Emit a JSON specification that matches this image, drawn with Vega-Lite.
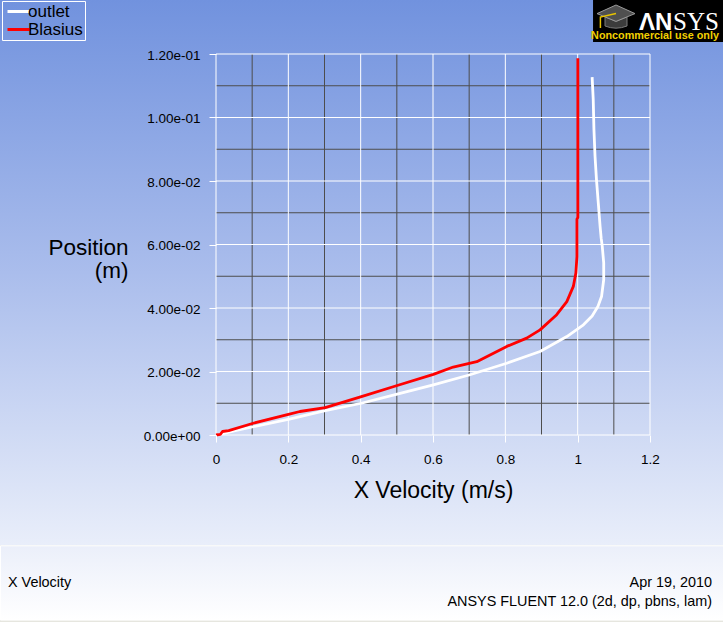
{
  "$schema": "https://vega.github.io/schema/vega-lite/v6.json",
  "width": 434,
  "height": 381,
  "autosize": {"type": "none"},
  "padding": {"left": 216, "top": 54, "right": 73, "bottom": 187},
  "config": {
    "view": {"stroke": null},
    "background": "#E6E6DF",
    "font": "Liberation Sans"
  },
  "datasets": {
    "curves": [
      {"series": "outlet", "x": 0.004, "y": 0.0},
      {"series": "outlet", "x": 0.05, "y": 0.0013},
      {"series": "outlet", "x": 0.103, "y": 0.0026},
      {"series": "outlet", "x": 0.203, "y": 0.005},
      {"series": "outlet", "x": 0.302, "y": 0.0077},
      {"series": "outlet", "x": 0.402, "y": 0.0100},
      {"series": "outlet", "x": 0.501, "y": 0.0129},
      {"series": "outlet", "x": 0.601, "y": 0.0158},
      {"series": "outlet", "x": 0.700, "y": 0.0189},
      {"series": "outlet", "x": 0.804, "y": 0.0226},
      {"series": "outlet", "x": 0.896, "y": 0.0263},
      {"series": "outlet", "x": 0.970, "y": 0.0310},
      {"series": "outlet", "x": 1.016, "y": 0.0347},
      {"series": "outlet", "x": 1.040, "y": 0.0375},
      {"series": "outlet", "x": 1.056, "y": 0.0405},
      {"series": "outlet", "x": 1.066, "y": 0.0436},
      {"series": "outlet", "x": 1.072, "y": 0.0489},
      {"series": "outlet", "x": 1.072, "y": 0.0542},
      {"series": "outlet", "x": 1.068, "y": 0.0594},
      {"series": "outlet", "x": 1.065, "y": 0.0620},
      {"series": "outlet", "x": 1.062, "y": 0.0657},
      {"series": "outlet", "x": 1.057, "y": 0.0731},
      {"series": "outlet", "x": 1.052, "y": 0.0804},
      {"series": "outlet", "x": 1.048, "y": 0.0878},
      {"series": "outlet", "x": 1.045, "y": 0.0962},
      {"series": "outlet", "x": 1.043, "y": 0.1057},
      {"series": "outlet", "x": 1.040, "y": 0.1127},
      {"series": "Blasius", "x": 0.0, "y": 0.0},
      {"series": "Blasius", "x": 0.012, "y": 0.0002},
      {"series": "Blasius", "x": 0.018, "y": 0.0011},
      {"series": "Blasius", "x": 0.035, "y": 0.0014},
      {"series": "Blasius", "x": 0.103, "y": 0.0037},
      {"series": "Blasius", "x": 0.203, "y": 0.0066},
      {"series": "Blasius", "x": 0.232, "y": 0.0074},
      {"series": "Blasius", "x": 0.302, "y": 0.0086},
      {"series": "Blasius", "x": 0.402, "y": 0.0121},
      {"series": "Blasius", "x": 0.501, "y": 0.0156},
      {"series": "Blasius", "x": 0.601, "y": 0.0191},
      {"series": "Blasius", "x": 0.656, "y": 0.0214},
      {"series": "Blasius", "x": 0.721, "y": 0.0231},
      {"series": "Blasius", "x": 0.804, "y": 0.0279},
      {"series": "Blasius", "x": 0.859, "y": 0.0305},
      {"series": "Blasius", "x": 0.896, "y": 0.0331},
      {"series": "Blasius", "x": 0.942, "y": 0.0379},
      {"series": "Blasius", "x": 0.970, "y": 0.0420},
      {"series": "Blasius", "x": 0.988, "y": 0.0468},
      {"series": "Blasius", "x": 0.995, "y": 0.0510},
      {"series": "Blasius", "x": 0.998, "y": 0.0562},
      {"series": "Blasius", "x": 0.998, "y": 0.0680},
      {"series": "Blasius", "x": 1.0005, "y": 0.0685},
      {"series": "Blasius", "x": 1.0005, "y": 0.1187}
    ],
    "gridx": [
      {"v": 0, "major": 1}, {"v": 0.1, "major": 0}, {"v": 0.2, "major": 1},
      {"v": 0.3, "major": 0}, {"v": 0.4, "major": 1}, {"v": 0.5, "major": 0},
      {"v": 0.6, "major": 1}, {"v": 0.7, "major": 0}, {"v": 0.8, "major": 1},
      {"v": 0.9, "major": 0}, {"v": 1.0, "major": 1}, {"v": 1.1, "major": 0},
      {"v": 1.2, "major": 1}
    ],
    "gridy": [
      {"v": 0, "major": 1}, {"v": 0.01, "major": 0}, {"v": 0.02, "major": 1},
      {"v": 0.03, "major": 0}, {"v": 0.04, "major": 1}, {"v": 0.05, "major": 0},
      {"v": 0.06, "major": 1}, {"v": 0.07, "major": 0}, {"v": 0.08, "major": 1},
      {"v": 0.09, "major": 0}, {"v": 0.10, "major": 1}, {"v": 0.11, "major": 0},
      {"v": 0.12, "major": 1}
    ]
  },
  "layer": [
    {
      "data": {"values": [{}]},
      "mark": {"type": "rect", "fill": {"gradient": "linear", "x1": 0, "y1": 0, "x2": 0, "y2": 1, "stops": [{"offset": 0, "color": "#7192DE"}, {"offset": 0.5, "color": "#AABDEC"}, {"offset": 1, "color": "#E9EEFA"}]}},
      "encoding": {
        "x": {
          "datum": -0.6, "type": "quantitative",
          "scale": {"domain": [0, 1.2], "nice": false},
          "axis": {
            "values": [0, 0.1, 0.2, 0.3, 0.4, 0.5, 0.6, 0.7, 0.8, 0.9, 1.0, 1.1, 1.2],
            "format": "~g",
            "labelExpr": "round(datum.value*10) % 2 == 0 ? datum.label : ''",
            "grid": false, "domain": false, "ticks": true, "tickSize": 7, "tickWidth": 1,
            "tickColor": {"condition": {"test": "round(datum.value*10) % 2 == 0", "value": "#FFFFFF"}, "value": "#4D4D4D"},
            "labelFont": "Liberation Sans", "labelFontSize": 13.5, "labelColor": "#000000",
            "labelPadding": 21.5, "labelBaseline": "alphabetic", "labelFlush": false, "labelOverlap": false, "labelBound": false,
            "title": "X Velocity (m/s)", "titleFont": "Liberation Sans", "titleFontSize": 23, "titleFontWeight": "normal", "titleColor": "#000000",
            "titleX": 217, "titleY": 62, "titleAlign": "center", "titleBaseline": "alphabetic",
            "zindex": 1
          }
        },
        "x2": {"datum": 1.41},
        "y": {
          "datum": 0.1372, "type": "quantitative",
          "scale": {"domain": [0, 0.12], "nice": false},
          "axis": {
            "values": [0, 0.01, 0.02, 0.03, 0.04, 0.05, 0.06, 0.07, 0.08, 0.09, 0.10, 0.11, 0.12],
            "labelExpr": "round(datum.value*100) % 2 == 0 ? replace(replace(format(datum.value, '.2e'), 'e-', 'e-0'), 'e+', 'e+0') : ''",
            "grid": false, "domain": false, "ticks": true, "tickSize": 7, "tickWidth": 1,
            "tickColor": {"condition": {"test": "round(datum.value*100) % 2 == 0", "value": "#FFFFFF"}, "value": "#4D4D4D"},
            "labelFont": "Liberation Sans", "labelFontSize": 13.5, "labelColor": "#000000",
            "labelPadding": 9, "labelBaseline": "middle", "labelOffset": 1, "labelFlush": false, "labelOverlap": false, "labelBound": false,
            "title": ["Position", "(m)"], "titleFont": "Liberation Sans", "titleFontSize": 22.5, "titleFontWeight": "normal", "titleColor": "#000000",
            "titleAngle": 0, "titleAlign": "right", "titleBaseline": "alphabetic", "titleX": -88, "titleY": 200, "titleLineHeight": 23,
            "zindex": 1
          }
        },
        "y2": {"datum": -0.0347}
      }
    },
    {
      "data": {"values": [{}]},
      "mark": {"type": "rect", "stroke": "#FFFFFF", "strokeWidth": 1, "fill": {"gradient": "linear", "x1": 0, "y1": 0, "x2": 0, "y2": 1, "stops": [{"offset": 0, "color": "#EBEFFA"}, {"offset": 1, "color": "#FFFFFF"}]}},
      "encoding": {
        "x": {"datum": -0.5958, "type": "quantitative", "scale": {"domain": [0, 1.2], "nice": false}},
        "x2": {"datum": 1.45},
        "y": {"datum": -0.0349, "type": "quantitative", "scale": {"domain": [0, 0.12], "nice": false}},
        "y2": {"datum": -0.0583}
      }
    },
    {
      "data": {"values": [{}]},
      "mark": {"type": "rect", "fill": "#000000"},
      "encoding": {
        "x": {"datum": 1.0425, "type": "quantitative", "scale": {"domain": [0, 1.2], "nice": false}},
        "x2": {"datum": 1.41},
        "y": {"datum": 0.1372, "type": "quantitative", "scale": {"domain": [0, 0.12], "nice": false}},
        "y2": {"datum": 0.1238}
      }
    },
    {
      "data": {"values": [{}]},
      "mark": {"type": "point", "filled": true, "shape": "M-0.55,0.05L0,0.27L0.55,0.05L0.55,0.5Q0,0.72,-0.55,0.5Z", "size": 1600, "fill": "#3C3C3C", "stroke": "#7A7A7A", "strokeWidth": 1, "opacity": 1},
      "encoding": {
        "x": {"datum": 1.106, "type": "quantitative", "scale": {"domain": [0, 1.2], "nice": false}},
        "y": {"datum": 0.13197, "type": "quantitative", "scale": {"domain": [0, 0.12], "nice": false}}
      }
    },
    {
      "data": {"values": [{}]},
      "mark": {"type": "point", "filled": true, "shape": "M0,-0.55L0.95,-0.12L0,0.27L-0.95,-0.12Z", "size": 1600, "fill": "#505050", "stroke": "#9A9A9A", "strokeWidth": 1, "opacity": 1},
      "encoding": {
        "x": {"datum": 1.106, "type": "quantitative", "scale": {"domain": [0, 1.2], "nice": false}},
        "y": {"datum": 0.13197, "type": "quantitative", "scale": {"domain": [0, 0.12], "nice": false}}
      }
    },
    {
      "data": {"values": [{}]},
      "mark": {"type": "point", "filled": false, "shape": "M0,-0.12L-0.78,0.05L-0.78,0.6", "size": 1600, "stroke": "#E8C400", "strokeWidth": 1.5, "opacity": 1},
      "encoding": {
        "x": {"datum": 1.106, "type": "quantitative", "scale": {"domain": [0, 1.2], "nice": false}},
        "y": {"datum": 0.13197, "type": "quantitative", "scale": {"domain": [0, 0.12], "nice": false}}
      }
    },
    {
      "data": {"values": [{}]},
      "mark": {"type": "text", "text": "ΛN", "align": "left", "baseline": "alphabetic", "font": "Liberation Sans", "fontWeight": "bold", "fontSize": 24, "color": "#FFFFFF"},
      "encoding": {
        "x": {"datum": 1.1696, "type": "quantitative", "scale": {"domain": [0, 1.2], "nice": false}},
        "y": {"datum": 0.12756, "type": "quantitative", "scale": {"domain": [0, 0.12], "nice": false}}
      }
    },
    {
      "data": {"values": [{}]},
      "mark": {"type": "text", "text": "SYS", "align": "left", "baseline": "alphabetic", "font": "Liberation Serif", "fontSize": 25, "color": "#FFFFFF"},
      "encoding": {
        "x": {"datum": 1.2636, "type": "quantitative", "scale": {"domain": [0, 1.2], "nice": false}},
        "y": {"datum": 0.12756, "type": "quantitative", "scale": {"domain": [0, 0.12], "nice": false}}
      }
    },
    {
      "data": {"values": [{}]},
      "mark": {"type": "text", "text": "Noncommercial use only", "align": "center", "baseline": "alphabetic", "font": "Liberation Sans", "fontWeight": "bold", "fontSize": 10.8, "color": "#F2D000"},
      "encoding": {
        "x": {"datum": 1.2138, "type": "quantitative", "scale": {"domain": [0, 1.2], "nice": false}},
        "y": {"datum": 0.12457, "type": "quantitative", "scale": {"domain": [0, 0.12], "nice": false}}
      }
    },
    {
      "data": {"values": [{}]},
      "mark": {"type": "text", "text": "X Velocity", "align": "left", "baseline": "alphabetic", "font": "Liberation Sans", "fontSize": 14.4, "color": "#000000"},
      "encoding": {
        "x": {"datum": -0.5751, "type": "quantitative", "scale": {"domain": [0, 1.2], "nice": false}},
        "y": {"datum": -0.04803, "type": "quantitative", "scale": {"domain": [0, 0.12], "nice": false}}
      }
    },
    {
      "data": {"values": [{}]},
      "mark": {"type": "text", "text": "Apr 19, 2010", "align": "right", "baseline": "alphabetic", "font": "Liberation Sans", "fontSize": 14.4, "color": "#000000"},
      "encoding": {
        "x": {"datum": 1.3714, "type": "quantitative", "scale": {"domain": [0, 1.2], "nice": false}},
        "y": {"datum": -0.04787, "type": "quantitative", "scale": {"domain": [0, 0.12], "nice": false}}
      }
    },
    {
      "data": {"values": [{}]},
      "mark": {"type": "text", "text": "ANSYS FLUENT 12.0 (2d, dp, pbns, lam)", "align": "right", "baseline": "alphabetic", "font": "Liberation Sans", "fontSize": 14.4, "color": "#000000"},
      "encoding": {
        "x": {"datum": 1.3714, "type": "quantitative", "scale": {"domain": [0, 1.2], "nice": false}},
        "y": {"datum": -0.05386, "type": "quantitative", "scale": {"domain": [0, 0.12], "nice": false}}
      }
    },
    {
      "data": {"name": "gridx"},
      "transform": [{"filter": "datum.major == 0"}],
      "mark": {"type": "rule", "color": "#4D4D4D", "strokeWidth": 1},
      "encoding": {
        "x": {"field": "v", "type": "quantitative", "scale": {"domain": [0, 1.2], "nice": false}},
        "y": {"datum": 0, "type": "quantitative", "scale": {"domain": [0, 0.12], "nice": false}},
        "y2": {"datum": 0.12}
      }
    },
    {
      "data": {"name": "gridy"},
      "transform": [{"filter": "datum.major == 0"}],
      "mark": {"type": "rule", "color": "#4D4D4D", "strokeWidth": 1},
      "encoding": {
        "y": {"field": "v", "type": "quantitative", "scale": {"domain": [0, 0.12], "nice": false}},
        "x": {"datum": 0, "type": "quantitative", "scale": {"domain": [0, 1.2], "nice": false}},
        "x2": {"datum": 1.2}
      }
    },
    {
      "data": {"name": "gridx"},
      "transform": [{"filter": "datum.major == 1"}],
      "mark": {"type": "rule", "color": "#FFFFFF", "strokeWidth": 1},
      "encoding": {
        "x": {"field": "v", "type": "quantitative", "scale": {"domain": [0, 1.2], "nice": false}},
        "y": {"datum": 0, "type": "quantitative", "scale": {"domain": [0, 0.12], "nice": false}},
        "y2": {"datum": 0.12}
      }
    },
    {
      "data": {"name": "gridy"},
      "transform": [{"filter": "datum.major == 1"}],
      "mark": {"type": "rule", "color": "#FFFFFF", "strokeWidth": 1},
      "encoding": {
        "y": {"field": "v", "type": "quantitative", "scale": {"domain": [0, 0.12], "nice": false}},
        "x": {"datum": 0, "type": "quantitative", "scale": {"domain": [0, 1.2], "nice": false}},
        "x2": {"datum": 1.2}
      }
    },
    {
      "data": {"name": "curves"},
      "mark": {"type": "line", "strokeJoin": "round", "strokeWidth": 2.8},
      "encoding": {
        "x": {"field": "x", "type": "quantitative", "scale": {"domain": [0, 1.2], "nice": false}},
        "y": {"field": "y", "type": "quantitative", "scale": {"domain": [0, 0.12], "nice": false}},
        "order": {"field": "y", "type": "quantitative"},
        "color": {
          "field": "series", "type": "nominal",
          "scale": {"domain": ["outlet", "Blasius"], "range": ["#FFFFFF", "#FF0000"]},
          "legend": {
            "orient": "none", "legendX": -214, "legendY": -53, "title": null,
            "symbolType": "M-1,0H3.6", "symbolSize": 100, "symbolStrokeWidth": 3,
            "labelFont": "Liberation Sans", "labelFontSize": 17, "labelColor": "#000000", "labelOffset": 7,
            "rowPadding": 0, "padding": 2, "strokeColor": "#FFFFFF"
          }
        }
      }
    }
  ]
}
